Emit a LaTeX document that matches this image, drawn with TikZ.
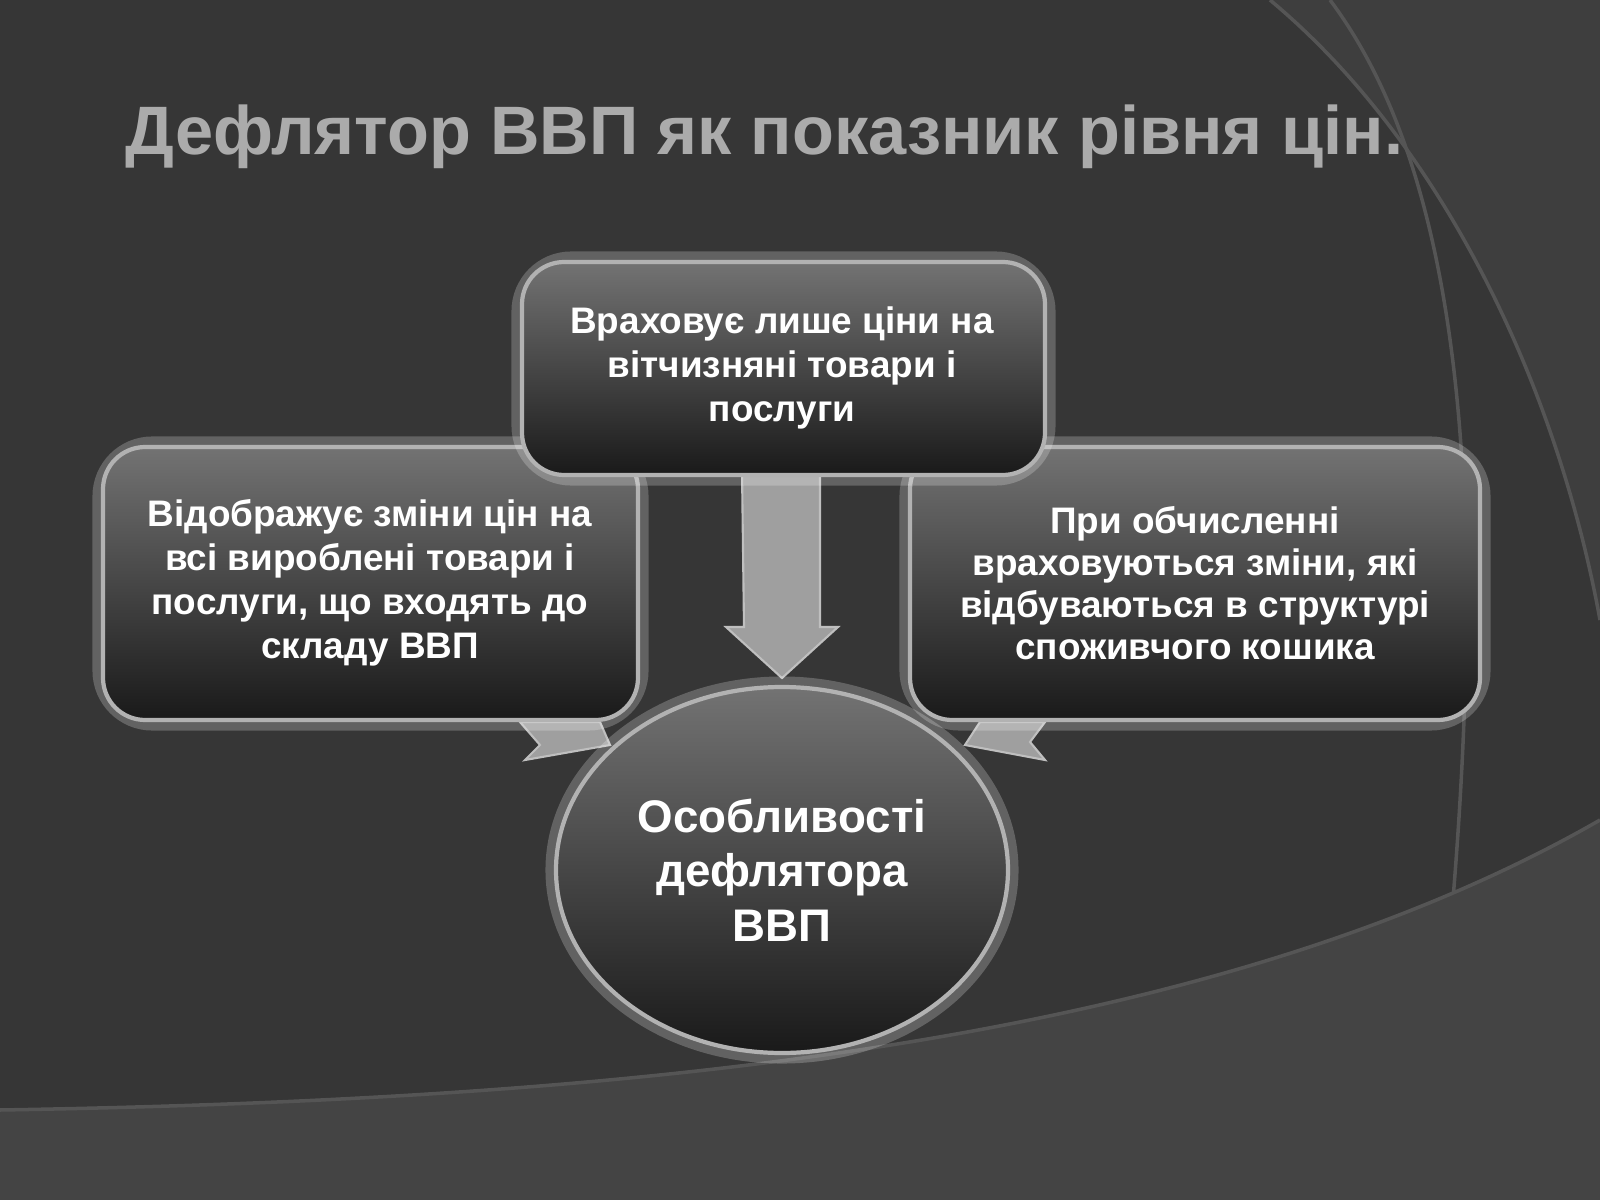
\documentclass[tikz,border=0pt]{standalone}
\usepackage{fontspec}
\setmainfont{Liberation Sans}
\usetikzlibrary{shapes.geometric}
\definecolor{bg}{HTML}{363636}
\definecolor{bgl}{HTML}{444444}
\definecolor{ttl}{HTML}{ABABAB}
\definecolor{arcl}{HTML}{555555}
\tikzset{
 boxs/.style={draw=gray!60,line width=1.2pt,rounded corners=12pt,top color=black!55,bottom color=black!90},
 glow/.style={draw=white,opacity=0.22,line width=6pt,rounded corners=14pt},
 txt/.style={text=white,font=\bfseries\fontsize{10.5}{12.5}\selectfont,align=center},
 arr/.style={fill=gray!75,draw=gray!50,line width=0.6pt}
}
\begin{document}
\begin{tikzpicture}[x=0.1mm,y=-0.1mm]
\useasboundingbox (0,0) rectangle (1600,1200);
\fill[bg] (0,0) rectangle (1600,1200);
% decorative arcs
\fill[bgl,opacity=0.6] (1270,0) .. controls (1450,150) and (1560,400) .. (1600,620) -- (1600,0) -- cycle;
\draw[arcl,line width=1pt] (1270,0) .. controls (1450,150) and (1560,400) .. (1600,620);
\draw[arcl,line width=1pt] (1330,0) .. controls (1480,200) and (1500,600) .. (1420,1200);
\fill[bgl] (0,1200) -- (0,1110) .. controls (600,1100) and (1200,1050) .. (1600,820) -- (1600,1200) -- cycle;
\draw[arcl,line width=1pt] (0,1110) .. controls (600,1100) and (1200,1050) .. (1600,820);
% title
\node[text=ttl,font=\bfseries\fontsize{19.5}{24}\selectfont,anchor=base west] (title) at (113,155) {Дефлятор ВВП як показник рівня цін.};
% arrows
\draw[arr] (742,470) -- (820,470) -- (820,627) -- (838,627) -- (782,678) -- (726,627) -- (744,627) -- cycle;
\draw[arr] (520,722) -- (600,722) -- (610,745) -- (525,760) -- (540,745) -- cycle;
\draw[arr] (965,745) -- (980,722) -- (1045,722) -- (1030,742) -- (1045,760) -- cycle;
% boxes
\draw[glow] (103,447) rectangle (638,720);
\path[boxs] (103,447) rectangle (638,720);
\node[txt] (lt) at (370,583) {Відображує зміни цін на\\всі вироблені товари і\\послуги, що входять до\\складу ВВП};
\draw[glow] (910,447) rectangle (1480,720);
\path[boxs] (910,447) rectangle (1480,720);
\node[txt,font=\bfseries\fontsize{10.5}{12}\selectfont] (rt) at (1195,583) {При обчисленні\\враховуються зміни, які\\відбуваються в структурі\\споживчого кошика};
\draw[glow] (522,262) rectangle (1045,475);
\path[boxs] (522,262) rectangle (1045,475);
\node[txt] (tt) at (782,368) {Враховує лише ціни на\\вітчизняні товари і\\послуги};
% ellipse
\draw[white,opacity=0.22,line width=6pt] (782,870) ellipse (226 and 183);
\path[draw=gray!60,line width=1.2pt,top color=black!55,bottom color=black!90] (782,870) ellipse (226 and 183);
\node[txt,font=\bfseries\fontsize{13}{15.5}\selectfont] (et) at (782,870) {Особливості\\дефлятора\\ВВП};
\end{tikzpicture}
\end{document}
